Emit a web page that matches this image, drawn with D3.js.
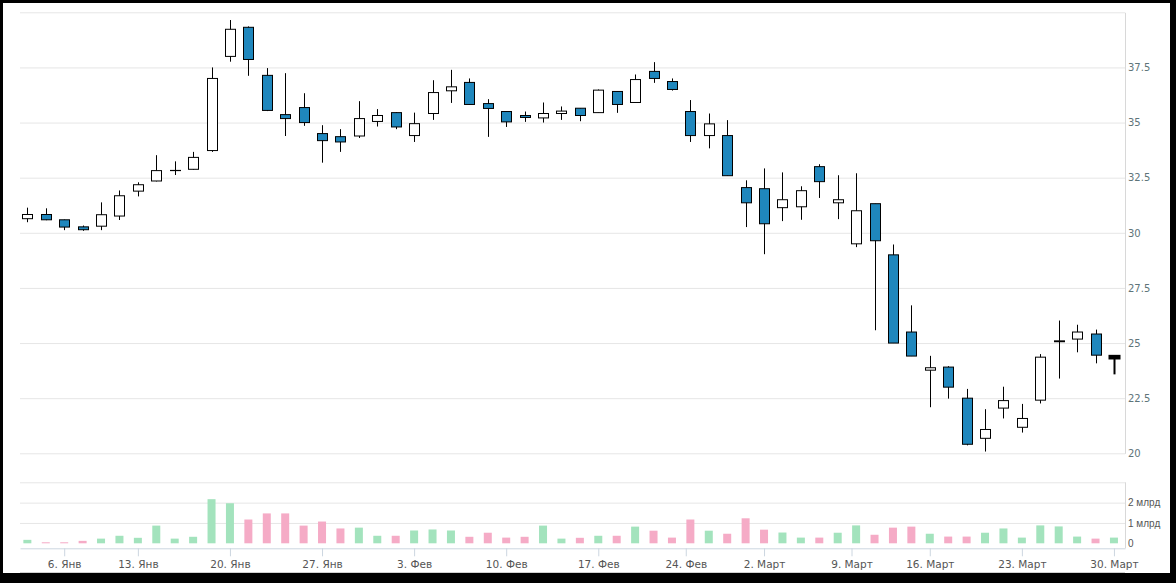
<!DOCTYPE html>
<html>
<head>
<meta charset="utf-8">
<script src="https://cdnjs.cloudflare.com/ajax/libs/d3/7.8.5/d3.min.js"></script>
<style>
html,body{margin:0;padding:0;background:#000;}
svg{display:block;}
</style>
</head>
<body>
<svg id="chart" width="1176" height="583"></svg>
<script>
// ---- data ----
const dates = ["2019-12-30","2020-01-03","2020-01-06","2020-01-08","2020-01-09","2020-01-10",
"2020-01-13","2020-01-14","2020-01-15","2020-01-16","2020-01-17",
"2020-01-20","2020-01-21","2020-01-22","2020-01-23","2020-01-24",
"2020-01-27","2020-01-28","2020-01-29","2020-01-30","2020-01-31",
"2020-02-03","2020-02-04","2020-02-05","2020-02-06","2020-02-07",
"2020-02-10","2020-02-11","2020-02-12","2020-02-13","2020-02-14",
"2020-02-17","2020-02-18","2020-02-19","2020-02-20","2020-02-21",
"2020-02-25","2020-02-26","2020-02-27","2020-02-28",
"2020-03-02","2020-03-03","2020-03-04","2020-03-05","2020-03-06",
"2020-03-10","2020-03-11","2020-03-12","2020-03-13",
"2020-03-16","2020-03-17","2020-03-18","2020-03-19","2020-03-20",
"2020-03-23","2020-03-24","2020-03-25","2020-03-26","2020-03-27",
"2020-03-30"];
const openVals  = [30.64,30.83,30.59,30.27,30.30,30.76,31.89,32.35,32.82,32.88,33.73,
38.00,39.32,37.14,35.36,35.68,34.50,34.36,34.39,35.05,35.45,
34.41,35.41,36.44,36.82,35.86,35.50,35.32,35.21,35.41,35.65,
35.45,36.41,35.91,37.32,36.86,35.50,34.41,34.41,32.05,
32.00,31.14,31.18,33.00,31.36,29.50,31.32,29.00,25.50,
23.77,23.91,22.50,20.68,22.05,21.18,22.41,25.06,25.18,25.41,24.30];
const highVals  = [31.14,31.11,30.60,30.33,31.38,31.92,32.29,33.52,33.24,33.67,37.50,
39.65,39.36,37.47,37.24,36.33,34.88,34.70,35.97,35.61,35.47,
35.45,36.92,37.39,37.00,36.06,35.50,35.50,35.91,35.73,35.65,
36.50,36.41,37.18,37.74,37.00,36.02,35.41,35.11,32.38,
32.92,32.74,32.11,33.11,32.61,32.70,31.32,29.47,26.71,
24.42,23.95,22.92,22.00,23.02,22.24,24.50,26.02,25.83,25.61,24.42];
const lowVals   = [30.48,30.57,30.12,30.09,30.12,30.58,31.65,32.33,32.62,32.86,33.67,
37.76,37.12,35.52,34.39,34.85,33.18,33.67,34.30,34.82,34.70,
34.12,35.12,35.89,35.80,34.35,34.80,35.03,35.00,35.12,35.06,
35.45,35.44,35.90,36.80,36.45,34.12,33.83,32.59,30.26,
29.03,30.53,30.59,31.58,30.62,29.35,25.58,25.00,24.41,
22.09,22.48,20.36,20.08,21.58,20.94,22.26,23.39,24.58,24.08,23.58];
const closeVals = [30.83,30.59,30.26,30.14,30.82,31.68,32.18,32.82,32.83,33.42,37.00,
39.23,37.86,35.55,35.18,35.00,34.18,34.12,35.18,35.32,34.80,
34.95,36.36,36.62,35.82,35.64,35.03,35.23,35.41,35.52,35.32,
36.47,35.82,36.95,37.00,36.50,34.41,34.94,32.59,31.36,
30.41,31.50,31.91,32.32,31.50,31.00,29.64,25.00,24.41,
23.88,23.00,20.41,21.08,22.39,21.58,24.36,25.10,25.50,24.45,24.42];
// volume, billions
const volumeVals = [0.17,0.05,0.05,0.12,0.23,0.37,0.27,0.87,0.23,0.32,2.17,
1.97,1.17,1.47,1.47,0.87,1.07,0.73,0.77,0.37,0.37,
0.63,0.68,0.63,0.32,0.52,0.28,0.32,0.87,0.23,0.27,
0.37,0.37,0.82,0.62,0.28,1.17,0.62,0.47,1.23,
0.67,0.53,0.28,0.28,0.52,0.88,0.42,0.77,0.82,
0.47,0.33,0.33,0.52,0.73,0.28,0.88,0.83,0.33,0.23,0.28];
const tickDates  = ["2020-01-06","2020-01-13","2020-01-20","2020-01-27","2020-02-03","2020-02-10",
"2020-02-17","2020-02-24","2020-03-02","2020-03-09","2020-03-16","2020-03-23","2020-03-30"];
const tickLabels = ["6. Янв","13. Янв","20. Янв","27. Янв","3. Фев","10. Фев",
"17. Фев","24. Фев","2. Март","9. Март","16. Март","23. Март","30. Март"];
const priceTicks = [20,22.5,25,27.5,30,32.5,35,37.5,40];
const volumeTicks = [1,2,3];
const volumeTickLabels = ["1 млрд","2 млрд",""];

// ---- layout ----
const svg = d3.select("#chart");
const plotL = 20, plotR = 1125;
const priceTop = 12.3, priceBot = 453.3;
const volTop = 482.3, volZero = 543.3, axisY = 548.3;
const upFill = "#ffffff", downFill = "#1f87bd";
const volUp = "#a3e3bd", volDown = "#f5abc6";

svg.append("rect").attr("width",1176).attr("height",583).attr("fill","#000");
svg.append("rect").attr("x",3).attr("y",3).attr("width",1167).attr("height",570).attr("fill","#fff");

// ordinal position of a date (interpolated for non-trading days)
const times = dates.map(d => +new Date(d+"T00:00:00Z"));
function ordPos(ds){
  const t = +new Date(ds+"T00:00:00Z");
  for (let i=0;i<times.length;i++){
    if (times[i]===t) return i;
    if (times[i]>t){
      if (i===0) return 0;
      return i-1 + (t-times[i-1])/(times[i]-times[i-1]);
    }
  }
  return times.length-1;
}

const x = d3.scaleLinear().domain([-0.4, dates.length-0.4]).range([plotL, plotR]);
const yP = d3.scaleLinear().domain([20,40]).range([priceBot, priceTop]);
const yV = d3.scaleLinear().domain([0,3]).range([volZero, volTop]);

// price axis + grid
const pAxis = svg.append("g").attr("transform",`translate(${plotR},0)`)
  .call(d3.axisRight(yP).tickValues(priceTicks).tickSize(-(plotR-plotL)).tickSizeOuter(0).tickPadding(3)
    .tickFormat(d => d===40 ? "" : String(d)));
pAxis.selectAll(".tick line").attr("stroke","#e6e6e6");
pAxis.select(".domain").attr("stroke","#d8d8d8");
pAxis.selectAll("text").attr("font-family","DejaVu Sans").attr("font-size","10px").attr("fill","#5e7479");

// volume axis + grid
const vAxis = svg.append("g").attr("transform",`translate(${plotR},0)`)
  .call(d3.axisRight(yV).tickValues(volumeTicks).tickSize(-(plotR-plotL)).tickSizeOuter(0).tickPadding(3)
    .tickFormat((d,i) => volumeTickLabels[i]));
vAxis.selectAll(".tick line").attr("stroke","#e6e6e6");
vAxis.select(".domain").remove();
vAxis.selectAll("text").attr("font-family","Liberation Sans").attr("font-size","10px").attr("fill","#555");
svg.append("text").attr("x",plotR+3).attr("y",yV(0)).attr("dy","0.32em")
  .attr("font-family","Liberation Sans").attr("font-size","10px").attr("fill","#555").text("0");
svg.append("line").attr("x1",plotR+0.5).attr("x2",plotR+0.5).attr("y1",volTop).attr("y2",axisY)
  .attr("stroke","#d8d8d8");

// x axis
const tickPos = tickDates.map(ordPos);
const xAxis = svg.append("g").attr("transform",`translate(0,${axisY})`)
  .call(d3.axisBottom(x).tickValues(tickPos).tickSize(8).tickSizeOuter(0).tickPadding(4)
    .tickFormat((d,i) => tickLabels[i]));
xAxis.select(".domain").attr("stroke","#ccd6e0");
xAxis.selectAll(".tick line").attr("stroke","#ccd6e0");
xAxis.selectAll("text").attr("font-family","DejaVu Sans").attr("font-size","10.5px").attr("fill","#555");
svg.append("line").attr("x1",plotL).attr("x2",plotR).attr("y1",572.5).attr("y2",572.5).attr("stroke","#d0d0d0");

// volume bars
const idx = d3.range(dates.length);
svg.append("g").selectAll("rect").data(idx).join("rect")
  .attr("x", i => x(i)-4)
  .attr("width", 8)
  .attr("y", i => yV(volumeVals[i]))
  .attr("height", i => yV(0)-yV(volumeVals[i]))
  .attr("fill", i => closeVals[i] >= openVals[i] ? volUp : volDown);

// candles
const last = dates.length-1;
const cg = svg.append("g");
cg.selectAll("line").data(idx).join("line")
  .attr("x1", i => Math.round(x(i))+0.5)
  .attr("x2", i => Math.round(x(i))+0.5)
  .attr("y1", i => yP(highVals[i]))
  .attr("y2", i => yP(lowVals[i]))
  .attr("stroke","#000")
  .attr("stroke-width", i => i===last ? 2 : 1);
cg.selectAll("rect").data(idx).join("rect")
  .attr("x", i => Math.round(x(i))-4.5)
  .attr("width", 10)
  .attr("y", i => yP(Math.max(openVals[i],closeVals[i])))
  .attr("height", i => Math.max(0.01, Math.abs(yP(openVals[i])-yP(closeVals[i]))))
  .attr("fill", i => i===last ? "#000" : (closeVals[i] >= openVals[i] ? upFill : downFill))
  .attr("stroke","#000")
  .attr("stroke-width", i => i===last ? 2 : 1);
</script>
</body>
</html>
